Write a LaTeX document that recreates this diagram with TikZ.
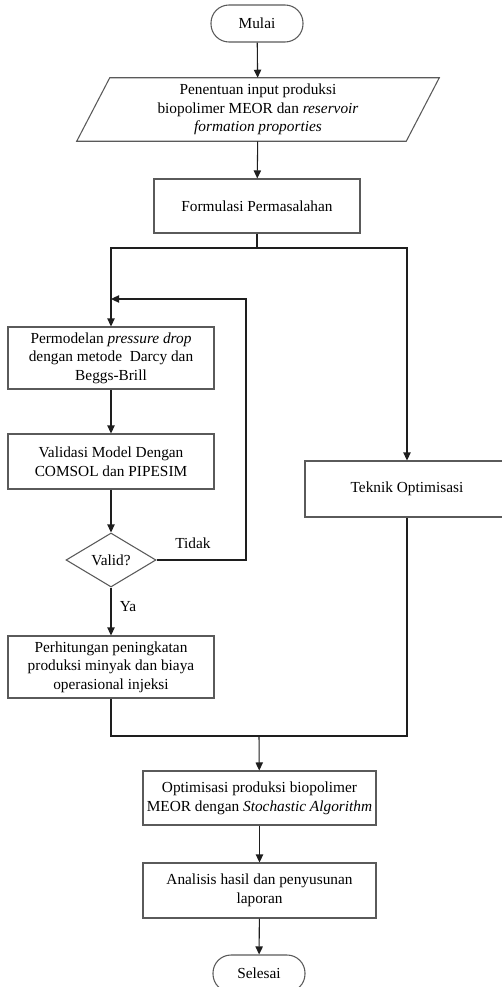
\documentclass[tikz,border=0pt]{standalone}
\usepackage{fontspec}
\setmainfont{Liberation Serif}
\usetikzlibrary{shapes.geometric,arrows.meta,calc}
\definecolor{boxline}{HTML}{5A5A5A}
\definecolor{wire}{HTML}{1E1E1E}
\begin{document}
\begin{tikzpicture}[x=0.75pt,y=-0.75pt,
  every node/.style={font=\fontsize{11.5}{14}\selectfont, align=center, inner sep=0pt},
  box/.style={draw=boxline, line width=0.8pt, rectangle, minimum width=#1*0.75pt},
  term/.style={draw=boxline, line width=0.8pt, rectangle, rounded corners=13.5pt,
    minimum width=92*0.75pt, minimum height=37*0.75pt},
  decide/.style={draw=boxline, line width=0.8pt, diamond, aspect=1.67,
    minimum width=90*0.75pt, minimum height=54*0.75pt},
  wireline/.style={draw=wire, line width=0.8pt},
  arrow/.style={wireline, -{Triangle[length=6pt,width=5.5pt]}},
  lbl/.style={font=\fontsize{11.5}{14}\selectfont}
]
\clip (0,0) rectangle (502,987);
\fill[white] (0,0) rectangle (502,987);

% start / end terminators
\node[term] (mulai) at (257,23.5) {Mulai};
\node[term] (selesai) at (259,973.5) {Selesai};

% input parallelogram (node frame plus slanted outline)
\node[minimum width=329*0.75pt, minimum height=63*0.75pt] (input) at (258,109.5)
  {Penentuan input produksi\\biopolimer MEOR dan \textit{reservoir}\\\textit{formation proporties}};
\draw[boxline, line width=0.8pt]
  ([xshift=12.4pt]input.north west) -- ([xshift=12.4pt]input.north east)
  -- ([xshift=-12.4pt]input.south east) -- ([xshift=-12.4pt]input.south west) -- cycle;

% process boxes
\node[box=206, minimum height=54*0.75pt] (form) at (257,206) {Formulasi Permasalahan};
\node[box=206, minimum height=62*0.75pt] (perm) at (111,358)
  {Permodelan \textit{pressure drop}\\dengan metode\ \ Darcy dan\\Beggs-Brill};
\node[box=206, minimum height=55*0.75pt] (valm) at (111,461.5)
  {Validasi Model Dengan\\COMSOL dan PIPESIM};
\node[decide] (valid) at (111,560) {Valid?};
\node[box=206, minimum height=62*0.75pt] (perh) at (111,667)
  {Perhitungan peningkatan\\produksi minyak dan biaya\\operasional injeksi};
\node[box=204, minimum height=56*0.75pt] (tek) at (407,489) {Teknik Optimisasi};
\node[box=233, minimum height=54*0.75pt] (opt) at (259.5,798)
  {Optimisasi produksi biopolimer\\MEOR dengan \textit{Stochastic Algorithm}};
\node[box=233, minimum height=55*0.75pt] (ana) at (259.5,890.5)
  {Analisis hasil dan penyusunan\\laporan};

% branch labels
\node[lbl] (tidak) at (193,543) {Tidak};
\node[lbl] (ya) at (128,607) {Ya};

% routing points
\coordinate (sl) at (111,248);
\coordinate (sr) at (407,248);
\coordinate (fb) at (246,299);
\coordinate (fbin) at (111,299);
\coordinate (jl) at (111,736);
\coordinate (jr) at (407,736);
\coordinate (jm) at (259,736);

% connectors
\draw[arrow] (mulai) -- (input);
\draw[arrow] (input) -- (form);
\draw[arrow] (form.south) |- (sl) -- (perm.north);
\draw[arrow] (form.south) |- (sr) -- (tek.north);
\draw[arrow] (perm) -- (valm);
\draw[arrow] (valm) -- (valid);
\draw[arrow] (valid.east) -| (fb) -- (fbin);
\draw[arrow] (valid) -- (perh);
\draw[wireline] (perh.south) -- (jl) -- (jr) -- (tek.south);
\draw[arrow] (jm) -- (opt);
\draw[arrow] (opt) -- (ana);
\draw[arrow] (ana) -- (selesai);
\end{tikzpicture}
\end{document}
